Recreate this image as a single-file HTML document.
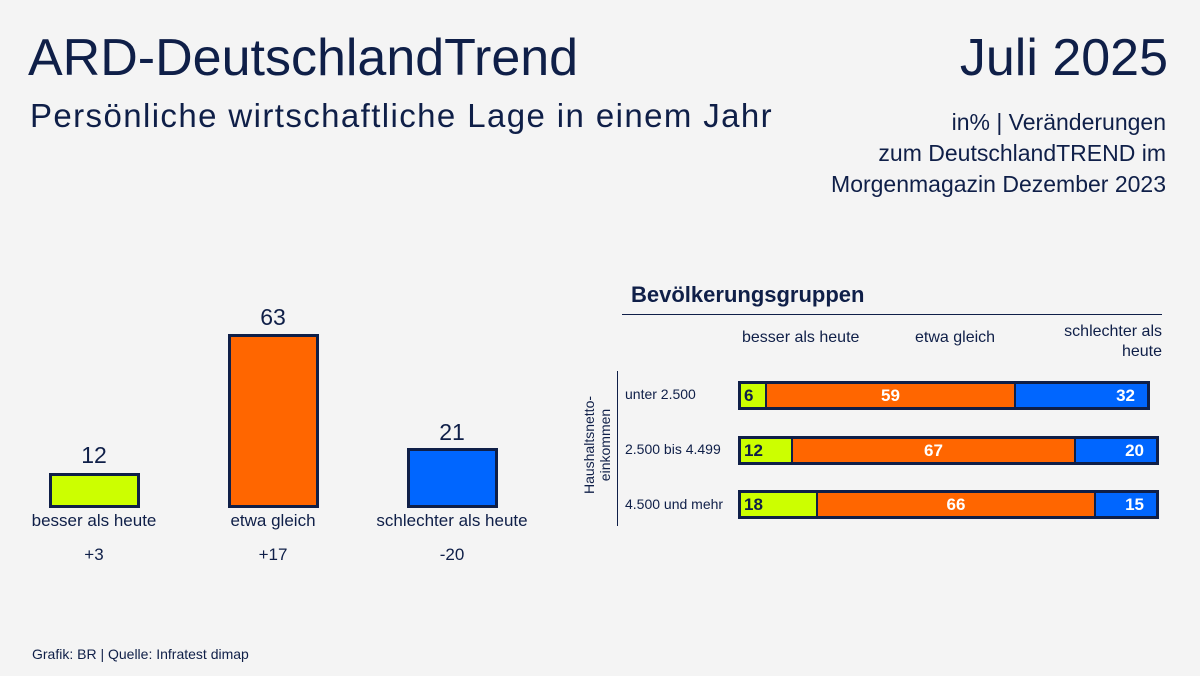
<!DOCTYPE html>
<html><head><meta charset="utf-8"><style>
body{margin:0;width:1200px;height:676px;background:#f4f4f4;font-family:"Liberation Sans","DejaVu Sans",sans-serif;color:#0f1f48;position:relative;overflow:hidden}
.a{position:absolute;white-space:nowrap}
.bar{position:absolute;border:3px solid #0f1f48;box-sizing:border-box}
.row{position:absolute;left:738px;height:29px;border:3px solid #0f1f48;box-sizing:border-box;display:flex}
.row div{height:100%;font-weight:bold;font-size:17px;line-height:23px;color:#fff;box-sizing:border-box}
.g{background:#ccff00;color:#0f1f48!important;padding-left:3px;border-right:2px solid #0f1f48}
.o{background:#ff6600;text-align:center;border-right:2px solid #0f1f48}
.b{background:#0066ff;text-align:right;padding-right:12px;flex:1}
</style></head><body>
<div class="a" style="left:28px;top:28px;font-size:52px">ARD-DeutschlandTrend</div>
<div class="a" style="right:32px;top:28px;font-size:52px">Juli 2025</div>
<div class="a" style="left:30px;top:97px;font-size:33px;letter-spacing:1.4px">Persönliche wirtschaftliche Lage in einem Jahr</div>
<div class="a" style="right:34px;top:107px;font-size:23px;text-align:right;line-height:31px">in% | Veränderungen<br>zum DeutschlandTREND im<br>Morgenmagazin Dezember 2023</div>

<div class="bar" style="left:49px;top:473px;width:91px;height:35px;background:#ccff00"></div>
<div class="bar" style="left:228px;top:334px;width:91px;height:174px;background:#ff6600"></div>
<div class="bar" style="left:407px;top:448px;width:91px;height:60px;background:#0066ff"></div>
<div class="a" style="left:44px;width:100px;text-align:center;top:442px;font-size:23px">12</div>
<div class="a" style="left:223px;width:100px;text-align:center;top:304px;font-size:23px">63</div>
<div class="a" style="left:402px;width:100px;text-align:center;top:419px;font-size:23px">21</div>
<div class="a" style="left:4px;width:180px;text-align:center;top:511px;font-size:17px">besser als heute</div>
<div class="a" style="left:183px;width:180px;text-align:center;top:511px;font-size:17px">etwa gleich</div>
<div class="a" style="left:362px;width:180px;text-align:center;top:511px;font-size:17px">schlechter als heute</div>
<div class="a" style="left:44px;width:100px;text-align:center;top:545px;font-size:17px">+3</div>
<div class="a" style="left:223px;width:100px;text-align:center;top:545px;font-size:17px">+17</div>
<div class="a" style="left:402px;width:100px;text-align:center;top:545px;font-size:17px">-20</div>
<div class="a" style="left:32px;top:646px;font-size:14px">Grafik: BR | Quelle: Infratest dimap</div>

<div class="a" style="left:631px;top:282px;font-size:22px;font-weight:bold">Bevölkerungsgruppen</div>
<div class="a" style="left:622px;top:314px;width:540px;height:1px;background:#0f1f48"></div>
<div class="a" style="left:742px;top:329px;font-size:16px">besser als heute</div>
<div class="a" style="left:915px;top:329px;font-size:16px">etwa gleich</div>
<div class="a" style="right:38px;top:322px;font-size:16px;text-align:right;line-height:20px">schlechter als<br>heute</div>
<div class="a" style="left:617px;top:371px;width:1px;height:155px;background:#0f1f48"></div>
<div class="a" style="left:527px;top:429px;width:140px;height:32px;text-align:center;transform:rotate(-90deg);font-size:14px;line-height:16px;transform-origin:center">Haushaltsnetto-<br>einkommen</div>
<div class="a" style="left:625px;top:386px;font-size:14px">unter 2.500</div>
<div class="a" style="left:625px;top:441px;font-size:14px">2.500 bis 4.499</div>
<div class="a" style="left:625px;top:496px;font-size:14px">4.500 und mehr</div>
<div class="row" style="top:381px;width:412px"><div class="g" style="width:26px">6</div><div class="o" style="width:249px">59</div><div class="b">32</div></div>
<div class="row" style="top:436px;width:421px"><div class="g" style="width:52px">12</div><div class="o" style="width:283px">67</div><div class="b">20</div></div>
<div class="row" style="top:490px;width:421px"><div class="g" style="width:77px">18</div><div class="o" style="width:278px">66</div><div class="b">15</div></div>
</body></html>
